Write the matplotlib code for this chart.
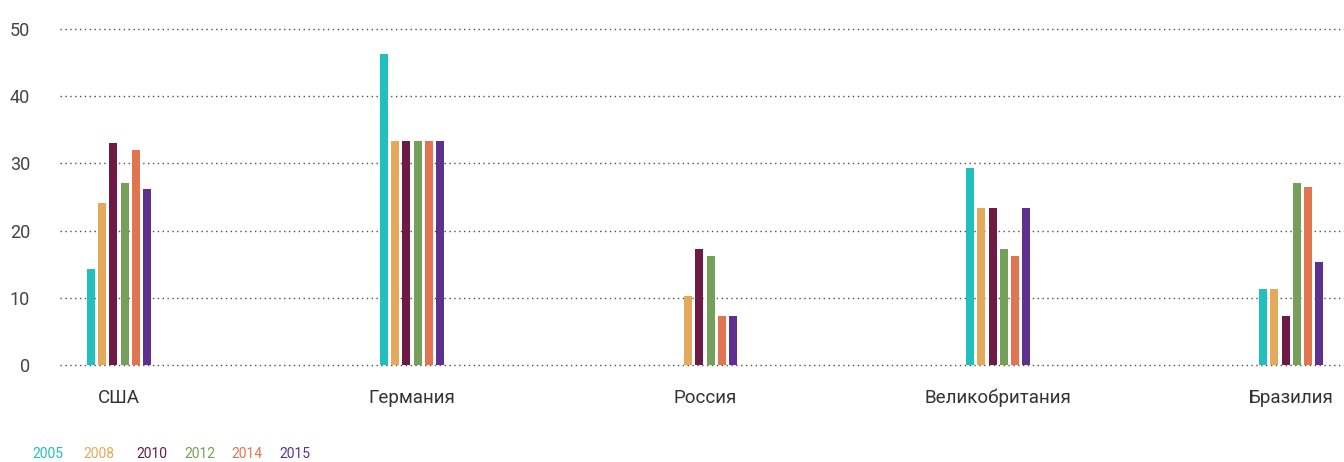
import numpy as np
import matplotlib.pyplot as plt

# --- data ---
countries = ['США', 'Германия', 'Россия', 'Великобритания', 'Бразилия']
years = ['2005', '2008', '2010', '2012', '2014', '2015']
values = {
    '2005': [14.3, 46.3, 0.0, 29.3, 11.3],
    '2008': [24.1, 33.3, 10.3, 23.4, 11.3],
    '2010': [33.0, 33.3, 17.3, 23.4, 7.3],
    '2012': [27.1, 33.3, 16.2, 17.3, 27.1],
    '2014': [32.0, 33.3, 7.3, 16.2, 26.5],
    '2015': [26.2, 33.3, 7.3, 23.4, 15.3],
}
y_ticks = [0, 10, 20, 30, 40, 50]

colors = ['#22bfbf', '#e5a95b', '#6e1a45', '#74a05a', '#e07550', '#5e3090']
plt.rcParams['font.family'] = ['Roboto', 'DejaVu Sans']

fig = plt.figure(figsize=(13.44, 4.62), dpi=100)
ax = fig.add_axes([60 / 1344, 97 / 462, 1 - 60 / 1344, 336 / 462])

x = np.arange(len(countries))
step = 0.0382
width = 0.0273
for i, (yr, c) in enumerate(zip(years, colors)):
    ax.bar(x + (i - 2.5) * step, values[yr], width=width, color=c,
           zorder=3, clip_on=False)

ax.set_xlim(-0.201, 4.18)
ax.set_ylim(0, 50)
ax.set_yticks(y_ticks)
ax.set_xticks(x)
ax.set_xticklabels(countries)
for s in ax.spines.values():
    s.set_visible(False)
ax.tick_params(axis='y', length=0, pad=21.6, labelsize=13, labelcolor='#444444')
ax.tick_params(axis='x', length=0, pad=17, labelsize=13.5, labelcolor='#333333')
ax.yaxis.grid(True, linestyle=(0, (1, 2.5)), color='#5a4a4a', linewidth=1, zorder=0)
for gl in ax.get_ygridlines():
    gl.set_clip_on(False)

# legend as coloured text
leg_x = [32, 83, 136, 184, 231, 279]
for xp, yr, c in zip(leg_x, years, colors):
    fig.text(xp / 1344, 1 - 454 / 462, yr, color=c, fontsize=10,
             va='center', ha='left')

fig.savefig('out.png', dpi=100)
